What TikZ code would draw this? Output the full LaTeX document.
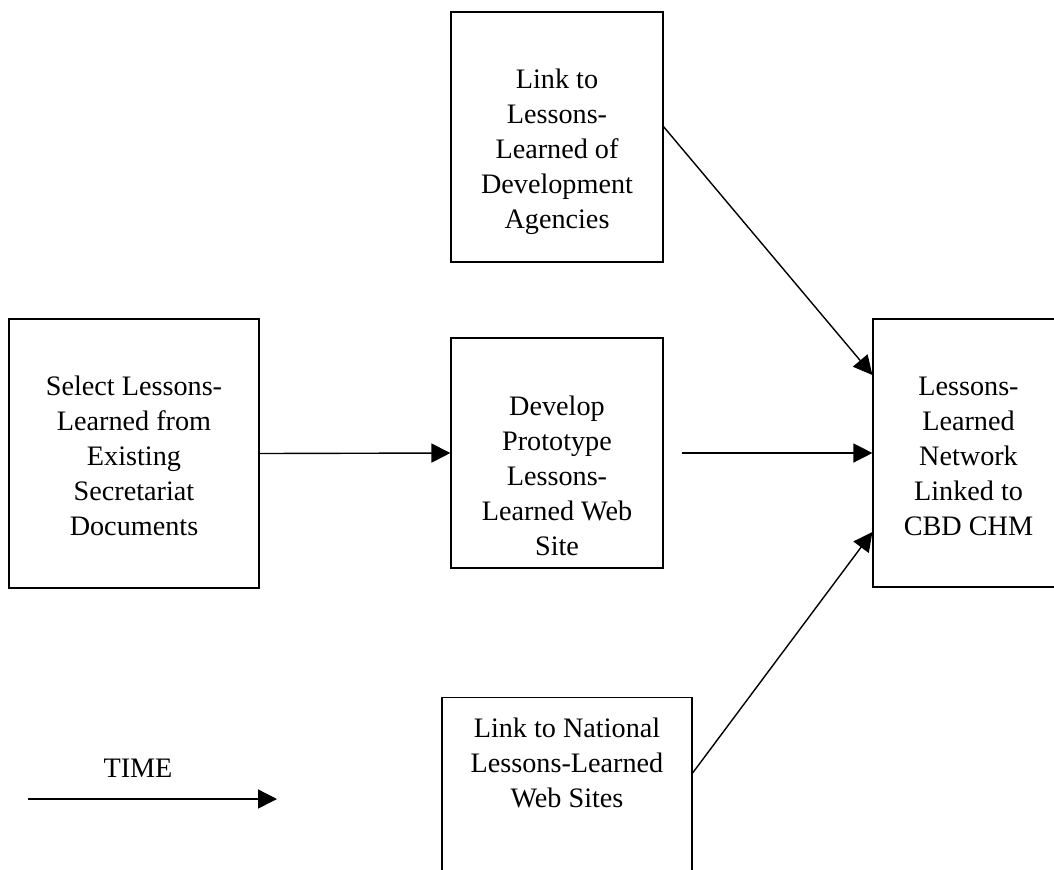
\documentclass[tikz,border=0pt]{standalone}
\usepackage{fontspec}
\setmainfont{Liberation Serif}
\usepackage{tikz}
\usetikzlibrary{arrows.meta}

\begin{document}
\begin{tikzpicture}[x=0.5pt,y=-0.5pt,
    box/.style={draw, line width=0.6pt, align=center, inner sep=0pt, text depth=0pt,
                font=\fontsize{14.1}{17.5}\selectfont},
    flow/.style={line width=0.7pt, -{Triangle[length=9.5pt,width=9.5pt]}}]
    \useasboundingbox (0,0) rectangle (1054,869);
    \clip (0,0) rectangle (1054,869);

    % text height is measured up from the last baseline
    \node[box, minimum width=106pt, minimum height=125pt, text height=91.4pt] (agencies) at (557,137)
        {Link to\\Lessons-\\Learned of\\Development\\Agencies};
    \node[box, minimum width=125pt, minimum height=134.5pt, text height=81.6pt] (select) at (134,453.5)
        {Select Lessons-\\Learned from\\Existing\\Secretariat\\Documents};
    \node[box, minimum width=106pt, minimum height=115pt, text height=102pt] (proto) at (557,453)
        {Develop\\Prototype\\Lessons-\\Learned Web\\Site};
    \node[box, minimum width=95.5pt, minimum height=134pt, text height=82pt] (network) at (968.5,453)
        {Lessons-\\Learned\\Network\\Linked to\\CBD CHM};
    % open at the bottom of the page
    \node[box, anchor=north, minimum width=125pt, inner ysep=10.5pt, text height=44.35pt, text depth=80pt] (natl) at (567,697)
        {Link to National\\Lessons-Learned\\Web Sites};

    \draw[flow] (select.east) -- (proto.west);
    \draw[flow] ([xshift=9pt]proto.east) -- (network.west);
    \draw[flow] ([yshift=5.15pt]agencies.east) -- ([yshift=39pt]network.west);
    \draw[flow] ([yshift=-38pt]natl.north east) -- ([yshift=-39.5pt]network.west);

    \coordinate (time0) at (28,799);
    \coordinate (time1) at (277,799);
    \draw[flow] (time0) -- (time1);
    \node[anchor=base, inner sep=0pt, font=\fontsize{14.1}{17.5}\selectfont] (timelbl) at (138,777) {TIME};
\end{tikzpicture}
\end{document}
